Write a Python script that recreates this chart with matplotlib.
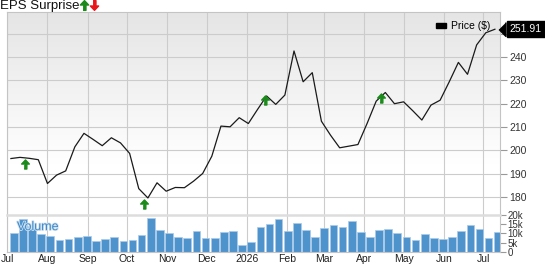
import numpy as np
import pandas as pd
import matplotlib
matplotlib.use("Agg")
from matplotlib import pyplot as plt
from matplotlib import patheffects
from matplotlib.colors import LinearSegmentedColormap
from matplotlib.transforms import blended_transform_factory, ScaledTranslation
from matplotlib.patches import Patch

plt.rcParams["font.family"] = ["Liberation Sans", "DejaVu Sans"]

# weekly closes
dates = pd.date_range("2025-07-04", periods=54, freq="7D")
price = [196.5, 197.0, 196.6, 196.0, 185.8, 189.4, 191.2, 201.5, 207.3, 204.7,
         202.0, 205.4, 203.2, 198.7, 183.6, 179.6, 186.1, 182.5, 184.1, 184.0,
         186.8, 190.1, 197.5, 210.4, 210.1, 214.0, 211.5, 217.5, 223.3, 219.7,
         223.7, 242.6, 229.4, 233.3, 212.5, 206.5, 201.1, 201.8, 202.5, 211.5,
         221.1, 224.8, 220.0, 220.8, 217.0, 213.0, 219.4, 221.5, 229.4, 237.7,
         232.6, 245.2, 250.4, 251.91]
# volume in thousands
volume = [10.4, 18.0, 13.9, 9.8, 8.3, 6.5, 7.0, 8.2, 8.5, 5.7,
          7.0, 8.0, 6.1, 6.5, 9.3, 18.3, 11.9, 10.2, 8.0, 7.4,
          11.3, 7.4, 7.4, 10.8, 11.5, 3.9, 5.2, 13.5, 15.2, 18.0,
          11.5, 15.8, 11.9, 8.0, 13.0, 14.8, 13.4, 16.7, 10.8, 8.2,
          11.9, 12.6, 10.2, 8.2, 6.5, 9.8, 7.6, 7.0, 8.2, 11.3,
          14.3, 12.6, 7.4, 10.8]

# EPS beats
eps_dates = pd.to_datetime(["2025-07-15", "2025-10-14", "2026-01-15", "2026-04-14"])
eps_y = [194.1, 177.0, 221.6, 222.4]

month_ticks = pd.date_range("2025-07-01", "2026-07-01", freq="MS")
month_labels = ["Jul", "Aug", "Sep", "Oct", "Nov", "Dec", "2026",
                "Feb", "Mar", "Apr", "May", "Jun", "Jul"]
price_ticks = [180, 190, 200, 210, 220, 230, 240, 250]
vol_ticks = [0, 5, 10, 15, 20]
vol_labels = ["0", "5k", "10k", "15k", "20k"]

grid_c = "#cccccc"
edge_c = "#c4c4c4"
bar_c = "#4f93cc"

up_arrow = [(-0.3, -1), (0.3, -1), (0.3, 0.1), (0.85, 0.1), (0, 1), (-0.85, 0.1), (-0.3, 0.1)]
down_arrow = [(x, -y) for x, y in up_arrow]

fig = plt.figure(figsize=(5.45, 2.64), dpi=100)
ax = fig.add_axes([7 / 545, 49 / 264, 493 / 545, 203 / 264])
vax = fig.add_axes([7 / 545, 12.3 / 264, 493 / 545, 36.7 / 264], sharex=ax)

# gradient background
grad = np.linspace(0, 1, 200).reshape(-1, 1)
grad = np.clip((grad - 0.25) / 0.75, 0, 1)
cmap = LinearSegmentedColormap.from_list("bg", ["#ffffff", "#e5e5e5"])
ax.imshow(grad, extent=[0, 1, 0, 1], origin="lower", transform=ax.transAxes,
          aspect="auto", cmap=cmap, zorder=0)

ax.plot(dates, price, color="#1a1a1a", lw=0.9, zorder=3)
ax.plot(eps_dates, eps_y, ls="none", marker=up_arrow, ms=6.5,
        color="#1a8a1a", zorder=4)

xmin = pd.Timestamp("2025-07-01")
xmax = dates[-1] + pd.Timedelta(days=3.9)
ax.set_xlim(xmin, xmax)
ax.set_ylim(172.3, 259.3)
ax.yaxis.tick_right()
ax.set_yticks(price_ticks)
ax.set_yticklabels([str(t) for t in price_ticks[:-1]] + [""])
ax.set_xticks(month_ticks)
ax.tick_params(axis="x", length=0, labelbottom=False)
ax.tick_params(axis="y", length=5, color="#999999", labelsize=7.5,
               labelcolor="#333333", pad=1.5)
ax.grid(True, color=grid_c, lw=0.8)
ax.set_axisbelow(True)
for s in ["left", "top", "right"]:
    ax.spines[s].set_color(edge_c)
    ax.spines[s].set_linewidth(0.8)
ax.spines["bottom"].set_visible(False)

leg = ax.legend(handles=[Patch(color="black", label="Price ($)")],
                loc="upper right", frameon=False, fontsize=7.5,
                handlelength=1.0, handleheight=0.45, handletextpad=0.5,
                borderaxespad=0.5)

# last price tag
trans = blended_transform_factory(ax.transAxes, ax.transData)
tip = trans + ScaledTranslation(0.02, 0, fig.dpi_scale_trans)
ax.plot([1.0], [price[-1]], transform=tip, marker=[(-0.5, 0), (0.5, -1), (0.5, 1)],
        ms=10, color="black", clip_on=False, zorder=6)
ax.annotate(f"{price[-1]:.2f}", xy=(1.0, price[-1]), xycoords=trans,
            xytext=(7, 0), textcoords="offset points", ha="left", va="center",
            fontsize=7.5, color="white", zorder=7, annotation_clip=False,
            bbox=dict(boxstyle="square,pad=0.3", fc="black", ec="black"))

# volume
vax.bar(dates + pd.Timedelta(days=2.2), volume, width=5.9, color=bar_c,
        edgecolor="#a9cbea", lw=0.5, zorder=2)
vax.set_ylim(0, 20)
vax.yaxis.tick_right()
vax.set_yticks(vol_ticks)
vax.set_yticklabels(vol_labels)
vax.set_xticks(month_ticks)
vax.set_xticklabels(month_labels)
vax.tick_params(axis="x", length=0, labelsize=7.5, labelcolor="#222222", pad=2)
vax.tick_params(axis="y", length=4, color="#999999", labelsize=7,
                labelcolor="#333333", pad=1.5)
vax.grid(True, axis="x", color=grid_c, lw=0.8)
vax.set_axisbelow(True)
for s in ["left", "bottom", "right"]:
    vax.spines[s].set_color(edge_c)
    vax.spines[s].set_linewidth(0.8)
vax.spines["top"].set_color("#dddddd")
vax.spines["top"].set_linewidth(1.8)
vax.text(0.02, 0.67, "Volume", transform=vax.transAxes, color="#3f88c5",
         fontsize=9, va="center", ha="left", zorder=5,
         path_effects=[patheffects.withStroke(linewidth=1.2, foreground="#cfe2f3")])

# header
fig.text(0.0, 0.999, "EPS Surprise", fontsize=9.5, va="top", ha="left", color="#111111")
fig.lines.append(plt.Line2D([84 / 545], [259 / 264], transform=fig.transFigure,
                            ls="none", marker=up_arrow, ms=7, color="#1a8a1a"))
fig.lines.append(plt.Line2D([94 / 545], [259 / 264], transform=fig.transFigure,
                            ls="none", marker=down_arrow, ms=7, color="#e8161b"))

fig.savefig("out.png", dpi=100)
